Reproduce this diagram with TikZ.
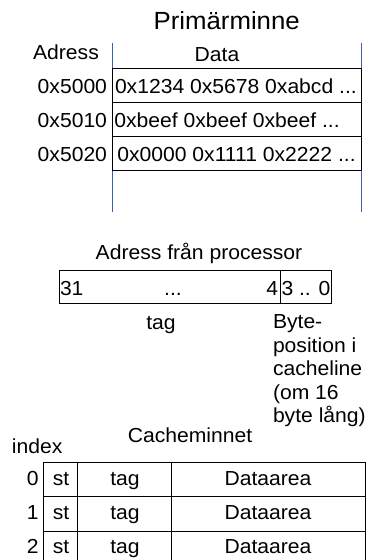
\documentclass[tikz,border=0pt]{standalone}
\usepackage{fontspec}
\setmainfont{Liberation Sans}[FakeStretch=1.04]
\definecolor{lineblue}{HTML}{3465A4}
\tikzset{
  txt/.style={inner sep=0pt, outer sep=0pt, font=\fontsize{20.3}{23.5}\selectfont},
  ttl/.style={inner sep=0pt, outer sep=0pt, font=\fontsize{24.8}{28}\selectfont},
  cell/.style={draw=black, line width=1pt},
  blueline/.style={draw=lineblue, line width=1pt}
}
\begin{document}
\begin{tikzpicture}[x=1pt,y=-1pt]
\useasboundingbox (0,0) rectangle (373,560);
% ---------- Primärminne ----------
\node[ttl,anchor=base] (title) at (226.7,29.3) {Primärminne};
\draw[blueline] (112,43) -- (112,212);
\draw[blueline] (361,43) -- (361,212);
\node[txt,anchor=base] (adr) at (66,59.3) {Adress};
\node[txt,anchor=base] (data) at (217,61) {Data};
\draw[cell] (112,68.3) rectangle (361,102.7);
\draw[cell] (112,102.7) rectangle (361,136.7);
\draw[cell] (112,136.7) rectangle (361,170.7);
\node[txt,anchor=base east] (a0) at (107,93.7) {0x5000};
\node[txt,anchor=base east] (a1) at (107,127.7) {0x5010};
\node[txt,anchor=base east] (a2) at (107,161.7) {0x5020};
\node[txt,anchor=base west] (d0) at (115,93.7) {0x1234 0x5678 0xabcd ...};
\node[txt,anchor=base west] (d1) at (114.4,127.7) {0xbeef 0xbeef 0xbeef ...};
\node[txt,anchor=base west] (d2) at (117.4,161.7) {0x0000 0x1111 0x2222 ...};
% ---------- Adress från processor ----------
\node[txt,anchor=base] (proc) at (199,259.3) {Adress från processor};
\draw[cell] (59.3,270) rectangle (331,303.3);
\draw[cell] (280.7,270) -- (280.7,303.3);
\node[txt,anchor=base west] (b31) at (60,295) {31};
\node[txt,anchor=base] (dots) at (173,295) {...};
\node[txt,anchor=base east] (b4) at (278,295) {4};
\node[txt,anchor=base west] (b30) at (281.5,295) {3 .. 0};
\node[txt,anchor=base] (tag) at (161,329.3) {tag};
\node[txt,anchor=north west,align=left] (bytepos) at (273,314.8) {Byte-\\position i\\cacheline\\(om 16\\byte lång)};
% ---------- Cacheminnet ----------
\node[txt,anchor=base] (cache) at (190,442.7) {Cacheminnet};
\node[txt,anchor=base west] (index) at (12,453.3) {index};
\draw[cell] (43.3,462.3) rectangle (365.7,565.5);
\draw[cell] (43.3,496.5) -- (365.7,496.5);
\draw[cell] (43.3,531) -- (365.7,531);
\draw[cell] (77.7,462.3) -- (77.7,565.5);
\draw[cell] (171.7,462.3) -- (171.7,565.5);
\foreach \i/\y in {0/485.7,1/519,2/553.3}{
  \node[txt,anchor=base east] (i\i) at (38.5,\y) {\i};
  \node[txt,anchor=base] (st\i) at (61,\y) {st};
  \node[txt,anchor=base] (tg\i) at (125,\y) {tag};
  \node[txt,anchor=base] (da\i) at (268,\y) {Dataarea};
}
\end{tikzpicture}
\end{document}
